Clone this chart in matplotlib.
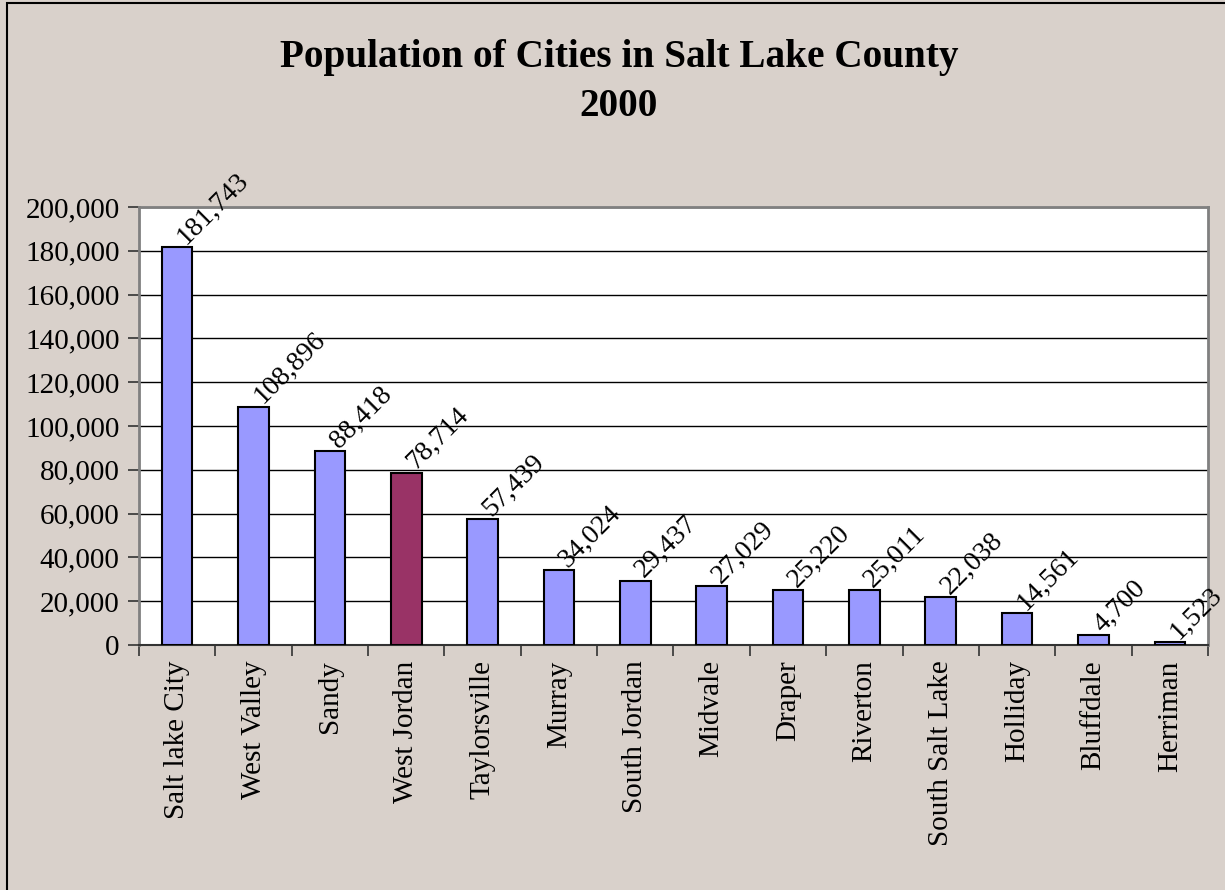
import matplotlib
matplotlib.use("Agg")
import matplotlib.pyplot as plt
from matplotlib.patches import Rectangle
from matplotlib.ticker import FuncFormatter, FixedLocator

cities = ["Salt lake City", "West Valley", "Sandy", "West Jordan", "Taylorsville",
          "Murray", "South Jordan", "Midvale", "Draper", "Riverton",
          "South Salt Lake", "Holliday", "Bluffdale", "Herriman"]
population = [181743, 108896, 88418, 78714, 57439, 34024, 29437, 27029,
              25220, 25011, 22038, 14561, 4700, 1523]
highlight = "West Jordan"
yticks = [0, 20000, 40000, 60000, 80000, 100000, 120000, 140000, 160000, 180000, 200000]

plt.rcParams['font.family'] = ['Liberation Serif', 'DejaVu Serif']

bg = "#D9D1CB"
fig = plt.figure(figsize=(12.25, 8.9), dpi=100, facecolor=bg)

# outer frame (extends beyond right/bottom edge)
fig.patches.append(Rectangle((7/1225, -0.1), 1.2, 1 - 3/890 + 0.1, transform=fig.transFigure,
                             fill=False, edgecolor="black", linewidth=1.5, zorder=0))

ax = fig.add_axes([139/1225, 1 - 645/890, (1208 - 139)/1225, (645 - 207)/890])
ax.set_facecolor("white")

x = list(range(len(cities)))
colors = ["#993366" if c == highlight else "#9999FF" for c in cities]
ax.bar(x, population, width=0.4, color=colors, edgecolor="black", linewidth=1.5, zorder=3)

for xi, v in zip(x, population):
    ax.text(xi + 0.17, v - 1000, f"{v:,}", rotation=45, rotation_mode="anchor",
            ha="left", va="bottom", fontsize=20, zorder=4)

ax.set_xlim(-0.5, len(cities) - 0.5)
ax.set_ylim(0, 200000)
ax.yaxis.set_major_locator(FixedLocator(yticks))
ax.yaxis.set_major_formatter(FuncFormatter(lambda v, p: f"{int(v):,}"))
ax.grid(axis="y", color="black", linewidth=1.0, zorder=1)
ax.set_axisbelow(True)

ax.set_xticks(x)
ax.set_xticklabels(cities, rotation=90, fontsize=21, va="top", ha="center")
ax.set_xticks([i + 0.5 for i in range(-1, len(cities))], minor=True)
ax.tick_params(axis="x", which="major", length=0, pad=11)
ax.tick_params(axis="x", which="minor", length=8, width=1.2, color="#333333", direction="out")
ax.tick_params(axis="y", length=8, width=1.2, color="#333333", direction="out", labelsize=21, pad=6)

for side in ["left", "top", "right"]:
    ax.spines[side].set_color("#808080")
    ax.spines[side].set_linewidth(2)
ax.spines["bottom"].set_color("#333333")
ax.spines["bottom"].set_linewidth(1.5)

fig.text(619/1225, 1 - 58/890, "Population of Cities in Salt Lake County",
         ha="center", va="center", fontsize=28.3, fontweight="bold")
fig.text(619/1225, 1 - 106/890, "2000",
         ha="center", va="center", fontsize=28.3, fontweight="bold")

fig.savefig("out.png", dpi=100, facecolor=bg)
